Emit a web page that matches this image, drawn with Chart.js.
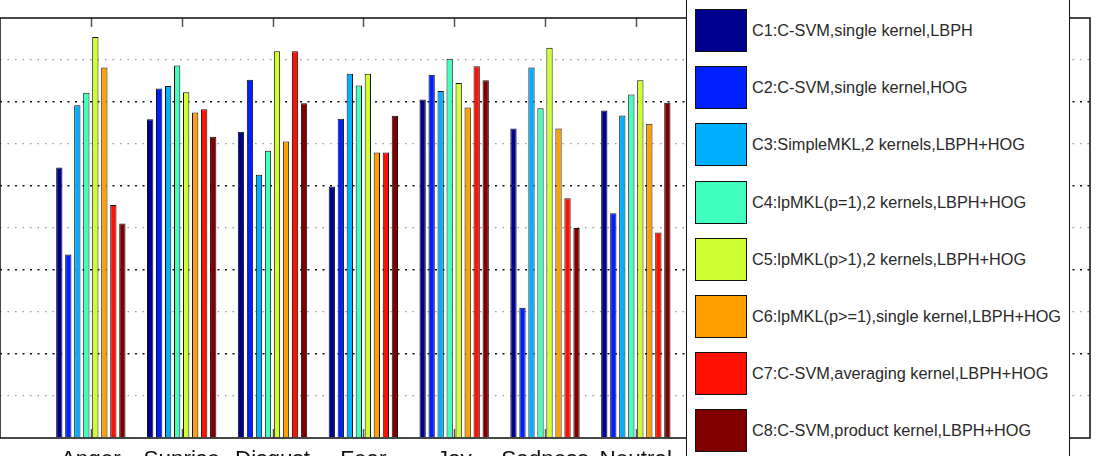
<!DOCTYPE html>
<html>
<head>
<meta charset="utf-8">
<script src="https://cdn.jsdelivr.net/npm/chart.js@4/dist/chart.umd.min.js"></script>
<style>
  html, body { margin: 0; padding: 0; background: #fff; overflow: hidden; }
  #wrap { position: relative; width: 1101px; height: 456px; overflow: hidden; }
  #c { position: absolute; left: 0; top: 0; }
  #legend {
    position: absolute; left: 686px; top: -6px; width: 384px; height: 480px;
    background: #fff; border: 1.5px solid #111; box-sizing: border-box;
    font-family: "Liberation Sans", Arial, Helvetica, sans-serif; font-size: 16.3px; color: #2a2a2a;
  }
  .item { position: absolute; left: 8px; height: 43px; display: flex; align-items: center; }
  .sw { width: 50px; height: 41px; border: 1px solid #111; margin-right: 5px; box-sizing: content-box; }
</style>
</head>
<body>
<div id="wrap">
  <canvas id="c" width="1101" height="480"></canvas>
  <div id="legend"></div>
</div>
<script>
// ---- data ----
const categories = ["Anger", "Suprise", "Disgust", "Fear", "Joy", "Sadness", "Neutral"];
const seriesNames = [
  "C1:C-SVM,single kernel,LBPH",
  "C2:C-SVM,single kernel,HOG",
  "C3:SimpleMKL,2 kernels,LBPH+HOG",
  "C4:lpMKL(p=1),2 kernels,LBPH+HOG",
  "C5:lpMKL(p>1),2 kernels,LBPH+HOG",
  "C6:lpMKL(p>=1),single kernel,LBPH+HOG",
  "C7:C-SVM,averaging kernel,LBPH+HOG",
  "C8:C-SVM,product kernel,LBPH+HOG"
];
const seriesColors = ["#00008F", "#0020FF", "#00AFFF", "#40FFBF", "#CFFF30", "#FFA000", "#FF1000", "#800000"];
const c1 = [64.4, 75.9, 72.9, 59.9, 80.6, 73.7, 78.0];
const c2 = [43.7, 83.2, 85.3, 76.0, 86.5, 31.0, 53.5];
const c3 = [79.2, 83.8, 62.7, 86.7, 82.6, 88.2, 76.8];
const c4 = [82.2, 88.7, 68.4, 83.9, 90.3, 78.5, 81.8];
const c5 = [95.5, 82.3, 92.1, 86.7, 84.5, 92.9, 85.2];
const c6 = [88.2, 77.5, 70.6, 68.0, 78.7, 73.7, 74.8];
const c7 = [55.5, 78.3, 92.1, 68.0, 88.5, 57.1, 48.9];
const c8 = [51.1, 71.7, 79.7, 76.7, 85.2, 50.0, 79.8];
const seriesValues = [c1, c2, c3, c4, c5, c6, c7, c8];
const yMin = 0, yMax = 100, yStep = 10, yMajor = 20;
const xMin = 0, xMax = 12;

const FONT = '"Liberation Sans", Arial, Helvetica, sans-serif';

const datasets = seriesValues.map((vals, i) => ({
  label: seriesNames[i],
  data: vals.map((v, j) => ({ x: j + 1, y: v })),
  backgroundColor: seriesColors[i],
  borderColor: '#111',
  borderWidth: 1,
  categoryPercentage: 0.7934,
  barPercentage: 0.7
}));

const framePlugin = {
  id: 'frame',
  afterDatasetsDraw(chart) {
    const { ctx, chartArea: a, scales } = chart;
    const xs = scales.x;
    ctx.save();
    ctx.strokeStyle = '#555';
    ctx.lineWidth = 1.5;
    categories.forEach((_, i) => {
      const px = Math.round(xs.getPixelForValue(i + 1)) + 0.5;
      ctx.beginPath();
      ctx.moveTo(px, a.top); ctx.lineTo(px, a.top + 9);
      ctx.moveTo(px, a.bottom); ctx.lineTo(px, a.bottom - 9);
      ctx.stroke();
    });
    ctx.strokeStyle = '#1a1a1a';
    ctx.lineWidth = 1.6;
    ctx.strokeRect(a.left, a.top, a.right - a.left, a.bottom - a.top);
    ctx.restore();
  }
};

new Chart(document.getElementById('c'), {
  type: 'bar',
  data: { datasets },
  options: {
    responsive: false,
    animation: false,
    layout: { padding: { left: 0, right: 11, top: 18, bottom: 0 } },
    plugins: { legend: { display: false }, tooltip: { enabled: false } },
    scales: {
      x: {
        type: 'linear',
        min: xMin, max: xMax,
        offset: false,
        grid: { display: false },
        border: { display: false },
        afterFit(s) { s.height = 42; },
        ticks: {
          stepSize: 1,
          autoSkip: false,
          maxRotation: 0, minRotation: 0,
          padding: 0,
          color: '#111',
          font: { family: FONT, size: 22.5 },
          callback: (v) => (Number.isInteger(v) && v >= 1 && v <= categories.length) ? categories[v - 1] : ''
        }
      },
      y: {
        min: yMin, max: yMax,
        afterFit(s) { s.width = 0; },
        ticks: { display: false, stepSize: yStep },
        border: {
          display: false,
          dash: (ctx) => (ctx.tick && ctx.tick.value % yMajor === 0) ? [2, 5.5] : [1.5, 6]
        },
        grid: {
          drawTicks: false,
          color: (ctx) => {
            const v = ctx.tick ? ctx.tick.value : 0;
            if (v <= yMin || v >= yMax) return 'rgba(0,0,0,0)';
            return v % yMajor === 0 ? '#111' : '#9a9a9a';
          },
          lineWidth: (ctx) => (ctx.tick && ctx.tick.value % yMajor === 0) ? 1.6 : 1.2
        }
      }
    }
  },
  plugins: [framePlugin]
});

const lg = document.getElementById('legend');
seriesNames.forEach((name, i) => {
  const it = document.createElement('div');
  it.className = 'item';
  it.style.top = (6 + 9 + i * 57.2 - 1) + 'px';
  const sw = document.createElement('div');
  sw.className = 'sw';
  sw.style.background = seriesColors[i];
  const tx = document.createElement('span');
  tx.textContent = name;
  it.appendChild(sw); it.appendChild(tx);
  lg.appendChild(it);
});
</script>
</body>
</html>
